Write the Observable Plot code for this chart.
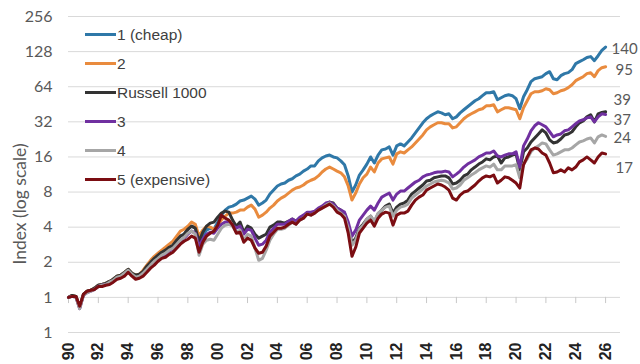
<!DOCTYPE html>
<html><head><meta charset="utf-8">
<script src="https://cdn.jsdelivr.net/npm/d3@7"></script>
<script src="https://cdn.jsdelivr.net/npm/@observablehq/plot@0.6"></script>
<style>
body{margin:0;background:#fff;}
#wrap{position:relative;width:640px;height:364px;overflow:hidden;}
#legend{position:absolute;left:85px;top:20px;font-family:"Liberation Sans",Arial,sans-serif;font-size:15.5px;color:#404040;}
.item{display:flex;align-items:center;height:29px;}
.sw{width:31px;height:3.5px;margin-right:1px;}
#ytitle{position:absolute;left:19px;top:204px;transform:translate(-50%,-50%) rotate(-90deg);white-space:nowrap;font-family:Lato,sans-serif;font-size:17.5px;color:#595959;}
</style></head><body>
<div id="wrap"><div id="chart"></div><div id="legend"></div><div id="ytitle">Index (log scale)</div></div>
<script>
// quarterly observation dates, 1990.00 ... 2026.00
const years = d3.range(0, 145).map(i => 1990 + i / 4);

const seriesNames = ["1 (cheap)", "2", "Russell 1000", "3", "4", "5 (expensive)"];
const seriesColors = ["#2f78a8", "#e98b3e", "#333333", "#7030a0", "#a6a6a6", "#7b0d12"];
const endLabels = ["140", "95", "39", "37", "24", "17"];
const yTicks = [0.5, 1, 2, 4, 8, 16, 32, 64, 128, 256];
const xTicks = [1990,1992,1994,1996,1998,2000,2002,2004,2006,2008,2010,2012,2014,2016,2018,2020,2022,2024,2026];

const cheap = [
1.00,1.04,1.02,0.82, 1.06,1.13,1.15,1.20, 1.27,1.29,1.32,1.37, 1.43,1.52,1.55,1.64,
1.74,1.61,1.55,1.58, 1.67,1.85,2.00,2.16, 2.30,2.44,2.54,2.69, 2.80,3.09,3.35,3.48,
3.84,4.08,3.92,2.91, 3.41,3.77,3.92,3.84, 4.42,5.07,5.60,5.94, 6.06,6.31,6.70,6.83,
7.10,7.39,6.96,6.18, 6.44,6.83,7.69,8.32, 9.01,9.38,9.56,10.1, 10.4,11.0,11.4,12.1,
12.6,13.4,13.4,14.8, 15.7,16.3,16.6,16.0, 15.7,14.8,13.7,11.0, 8.0,9.19,11.2,12.4,
13.9,16.0,14.2,16.6, 18.4,18.7,19.5,16.6, 19.9,20.7,19.9,21.5, 23.3,25.7,28.4,31.4,
34.0,36.0,37.5,39.0, 38.2,36.8,37.5,34.0, 35.3,38.2,40.6,43.1, 45.7,48.5,50.5,53.6,
56.8,56.8,58.0,49.5, 51.5,53.6,54.6,53.6, 50.5,41.4,52.5,60.3, 70.7,75.0,76.5,78.0,
82.8,86.1,75.0,73.5, 79.6,82.8,84.5,89.6, 101,105,109,114, 116,107,118,131,
140];
const q2 = [
1.00,1.04,1.02,0.82, 1.06,1.13,1.15,1.20, 1.27,1.29,1.32,1.37, 1.43,1.52,1.55,1.64,
1.74,1.61,1.55,1.58, 1.71,1.89,2.08,2.25, 2.39,2.54,2.69,2.86, 3.03,3.35,3.70,3.84,
4.08,4.42,4.24,3.35, 3.77,4.08,4.00,3.84, 4.08,4.60,4.97,5.28, 5.28,5.38,5.60,5.60,
5.94,6.18,5.71,4.87, 5.07,5.38,5.83,6.18, 6.70,7.10,7.39,7.84, 8.32,8.66,8.83,9.19,
9.75,10.1,10.4,11.0, 11.9,12.6,13.1,12.6, 12.1,11.7,10.8,9.01, 6.83,7.84,9.38,10.6,
11.4,13.1,11.9,14.2, 15.4,15.7,16.0,13.9, 17.0,17.7,17.3,18.4, 19.5,21.1,22.8,24.7,
27.3,29.0,30.2,31.4, 31.4,30.8,30.8,28.4, 29.0,31.4,34.0,36.0, 37.5,39.0,40.6,41.4,
43.9,43.9,44.8,39.0, 40.6,42.2,42.2,41.4, 40.6,34.0,42.2,48.5, 55.7,58.0,58.0,59.1,
61.5,60.3,55.7,56.8, 59.1,60.3,62.8,66.6, 72.1,75.0,78.0,82.8, 84.5,78.0,87.9,93.2,
95];
const russell = [
1.00,1.04,1.02,0.82, 1.06,1.13,1.15,1.20, 1.27,1.29,1.32,1.37, 1.43,1.52,1.55,1.64,
1.74,1.61,1.55,1.58, 1.67,1.85,2.00,2.16, 2.30,2.44,2.54,2.69, 2.80,3.09,3.35,3.48,
3.84,4.08,3.92,3.03, 3.62,4.08,4.33,4.42, 4.87,5.28,5.49,5.38, 4.60,4.08,4.42,3.62,
4.08,3.92,3.48,3.22, 3.35,3.48,4.00,4.16, 4.42,4.42,4.33,4.50, 4.69,4.50,4.78,4.97,
5.28,5.18,5.38,5.71, 5.94,6.31,6.56,6.44, 5.83,5.60,5.28,4.08, 2.91,3.22,3.92,4.24,
4.69,4.97,4.42,5.18, 5.60,6.06,6.31,5.28, 5.94,6.31,6.44,6.83, 7.69,8.16,8.66,9.19,
9.94,10.1,10.6,10.8, 11.0,11.0,10.6,9.38, 9.56,10.1,11.0,11.4, 12.4,13.1,13.9,14.5,
15.4,15.1,16.0,16.3, 14.2,15.7,16.0,16.6, 17.0,12.4,17.7,19.1, 21.5,23.3,25.2,27.3,
25.7,22.4,21.1,21.5, 22.8,24.7,25.2,26.3, 29.0,31.4,32.6,35.3, 36.8,32.0,37.5,38.5,
39];
const q3 = [
1.00,1.02,1.00,0.80, 1.04,1.10,1.13,1.17, 1.24,1.27,1.29,1.32, 1.37,1.46,1.49,1.58,
1.67,1.55,1.46,1.49, 1.58,1.71,1.85,2.00, 2.08,2.25,2.34,2.49, 2.59,2.80,3.03,3.22,
3.48,3.70,3.55,2.75, 3.15,3.48,3.62,3.55, 3.92,4.24,4.42,4.42, 4.16,3.92,4.08,3.48,
3.84,3.77,3.22,2.80, 2.86,3.09,3.62,3.92, 4.24,4.24,4.24,4.50, 4.69,4.50,4.87,5.07,
5.38,5.38,5.49,5.83, 6.06,6.44,6.56,6.31, 5.83,5.60,5.38,4.42, 3.35,3.77,4.60,5.07,
5.60,6.06,5.60,6.44, 7.24,7.54,7.84,6.83, 7.69,8.16,8.16,8.66, 9.19,9.75,10.1,10.8,
11.2,11.4,11.7,11.9, 11.9,12.1,11.9,10.8, 11.4,12.1,13.1,13.9, 14.5,15.1,16.0,16.6,
17.3,17.3,18.0,16.3, 16.0,16.6,17.0,17.0, 17.7,13.1,19.9,22.8, 26.8,29.6,31.4,30.2,
29.0,26.3,23.8,24.7, 25.2,26.8,27.3,29.0, 30.8,32.6,33.3,34.6, 35.3,32.0,35.3,37.5,
37];
const q4 = [
1.00,1.02,1.00,0.80, 1.04,1.10,1.13,1.17, 1.24,1.27,1.29,1.35, 1.40,1.49,1.52,1.61,
1.71,1.58,1.49,1.52, 1.61,1.74,1.89,2.04, 2.16,2.30,2.39,2.54, 2.64,2.86,3.09,3.28,
3.55,3.70,3.48,2.30, 2.86,3.09,3.15,3.09, 3.48,3.92,4.16,4.24, 4.08,3.62,3.77,3.09,
3.48,3.35,2.64,2.08, 2.16,2.54,3.09,3.48, 3.84,3.84,3.92,4.16, 4.42,4.24,4.60,4.78,
5.18,5.07,5.28,5.60, 5.83,6.18,6.44,6.06, 5.60,5.28,4.97,3.92, 2.80,3.09,3.84,4.16,
4.69,4.97,4.50,5.28, 5.60,5.94,6.06,4.97, 5.60,5.94,6.06,6.31, 7.10,7.54,8.00,8.49,
9.01,9.38,9.75,9.94, 10.1,9.94,9.56,8.49, 8.66,9.19,10.1,10.6, 11.2,11.7,12.4,12.9,
13.4,13.1,13.9,12.4, 12.4,13.4,13.4,13.4, 13.7,10.6,13.9,15.4, 17.7,19.1,19.9,21.1,
20.7,18.4,16.6,17.0, 17.7,18.4,18.4,19.1, 20.3,21.5,22.0,22.8, 23.3,21.1,23.8,24.7,
24];
const expensive = [
1.00,1.02,1.02,0.84, 1.06,1.13,1.15,1.17, 1.24,1.24,1.27,1.29, 1.35,1.43,1.46,1.52,
1.64,1.52,1.43,1.46, 1.52,1.64,1.78,1.89, 2.04,2.16,2.21,2.34, 2.44,2.64,2.86,3.03,
3.15,3.35,3.22,2.44, 2.97,3.35,3.55,3.70, 4.16,5.07,4.78,4.60, 4.16,3.55,3.62,2.97,
3.22,3.09,2.64,2.39, 2.44,2.75,3.35,3.62, 3.92,3.92,4.00,4.24, 4.42,4.24,4.60,4.78,
5.18,5.07,5.28,5.60, 5.83,6.06,6.31,5.94, 5.38,5.18,4.78,3.55, 2.25,2.69,3.55,3.92,
4.33,4.60,4.08,4.78, 5.18,5.38,5.28,4.16, 5.07,5.28,5.28,5.49, 6.18,6.83,7.24,7.54,
8.32,8.66,9.01,9.38, 9.19,8.83,8.32,7.10, 6.83,7.54,8.00,8.16, 8.66,9.19,9.94,10.6,
11.0,10.8,11.2,9.56, 10.1,10.8,10.6,10.1, 9.56,8.66,13.7,16.0, 18.4,19.1,18.7,17.3,
16.6,14.2,11.7,11.9, 12.4,11.9,12.9,12.4, 13.1,14.5,15.1,16.0, 15.1,14.2,16.0,17.3,
17];

const allValues = [cheap, q2, russell, q3, q4, expensive];
const labelDx = [6, 10, 8, 8, 8, 10];
const labelDy = [2, 3, -12, 6, 2, 14];

const lineMarks = [];
const labelMarks = [];
allValues.forEach((vals, s) => {
  const rows = years.map((yr, i) => ({year: yr, value: vals[i]}));
  lineMarks.push(Plot.lineY(rows, {x: "year", y: "value", stroke: seriesColors[s], strokeWidth: 3, strokeLinejoin: "round"}));
  const last = rows[rows.length - 1];
  labelMarks.push(Plot.text([last], {x: "year", y: "value", text: () => endLabels[s], textAnchor: "start", dx: labelDx[s], dy: labelDy[s], fill: "#595959", fontSize: 15, fontFamily: "Lato, sans-serif"}));
});

const chart = Plot.plot({
  width: 640, height: 364,
  marginLeft: 68, marginRight: 20, marginTop: 16, marginBottom: 32,
  style: {background: "white", overflow: "visible"},
  x: {domain: [1990, 2027]},
  y: {type: "log", base: 2, domain: [0.5, 256]},
  marks: [
    Plot.ruleY(yTicks, {stroke: "#d9d9d9", strokeWidth: 1}),
    Plot.ruleX(xTicks, {y1: 1, y2: 0.885, stroke: "#c8c8c8", strokeWidth: 1}),
    Plot.axisY({ticks: yTicks, tickFormat: d => d < 1 ? "1" : String(d), tickSize: 0, tickPadding: 16, label: null, fontSize: 16, fill: "#595959", fontFamily: "Lato, sans-serif"}),
    Plot.axisX({ticks: xTicks, tickFormat: d => String(d % 100).padStart(2, "0"), tickRotate: -90, tickSize: 0, tickPadding: 10, label: null, fontSize: 16, fontWeight: "bold", fill: "#222", fontFamily: "Liberation Sans, Arial, sans-serif"}),
    ...lineMarks,
    ...labelMarks
  ]
});
document.getElementById("chart").appendChild(chart);

const legend = d3.select("#legend");
seriesNames.forEach((name, s) => {
  const item = legend.append("div").attr("class", "item");
  item.append("div").attr("class", "sw").style("background", seriesColors[s]);
  item.append("span").text(name);
});
</script>
</body></html>
